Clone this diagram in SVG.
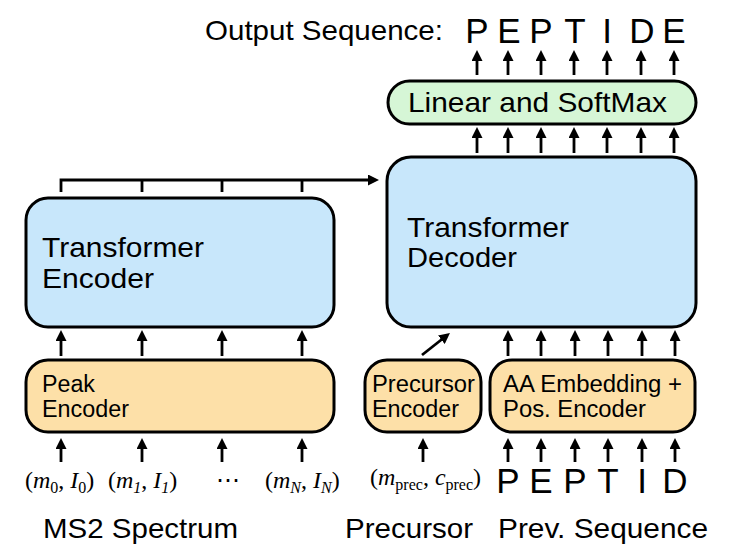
<svg xmlns="http://www.w3.org/2000/svg" width="736" height="550" viewBox="0 0 736 550">
<style>
text{font-family:"Liberation Sans",Arial,sans-serif;fill:#000}
.big{font-size:28px}
.pep{font-size:35px;text-anchor:middle}
.small{font-size:23px}
.math{font-family:"Liberation Serif","DejaVu Serif",serif;font-size:24px}
.it{font-style:italic}
.sub{font-size:16px}
.box{stroke:#000;stroke-width:3}
.blue{fill:#c8e7fb}
.orange{fill:#fde0a8}
.green{fill:#d6f6d6}
.arr{stroke:#000;stroke-width:2.8;fill:none;marker-end:url(#ah)}
.ln{stroke:#000;stroke-width:2.8;fill:none}
</style>
<defs>
<marker id="ah" viewBox="0 0 11 11" refX="2" refY="5.5" markerWidth="11" markerHeight="11" markerUnits="userSpaceOnUse" orient="auto">
<path d="M0,0 L11,5.5 L0,11 z" fill="#000"/>
</marker>
</defs>
<rect width="736" height="550" fill="#fff"/>

<g id="title">
<text class="big" x="205" y="40" textLength="238" lengthAdjust="spacingAndGlyphs">Output Sequence:</text>
<text class="pep" x="477" y="43">P</text>
<text class="pep" x="509" y="43">E</text>
<text class="pep" x="541" y="43">P</text>
<text class="pep" x="575" y="43">T</text>
<text class="pep" x="607" y="43">I</text>
<text class="pep" x="642" y="43">D</text>
<text class="pep" x="674" y="43">E</text>
</g>

<g id="linear-softmax">
<rect class="box green" x="388" y="81" width="308" height="43" rx="21.5"/>
<text class="big" x="408" y="112" textLength="259" lengthAdjust="spacingAndGlyphs">Linear and SoftMax</text>
</g>

<g id="transformer-encoder">
<rect class="box blue" x="26" y="198" width="308" height="129" rx="22"/>
<text class="big" x="42" y="257" textLength="162" lengthAdjust="spacingAndGlyphs">Transformer</text>
<text class="big" x="42" y="288" textLength="112" lengthAdjust="spacingAndGlyphs">Encoder</text>
</g>

<g id="transformer-decoder">
<rect class="box blue" x="387" y="157" width="309" height="170" rx="24"/>
<text class="big" x="407" y="237" textLength="162" lengthAdjust="spacingAndGlyphs">Transformer</text>
<text class="big" x="407" y="267" textLength="110" lengthAdjust="spacingAndGlyphs">Decoder</text>
</g>

<g id="peak-encoder">
<rect class="box orange" x="26" y="360" width="308" height="72" rx="22"/>
<text class="small" x="42" y="392" textLength="53" lengthAdjust="spacingAndGlyphs">Peak</text>
<text class="small" x="42" y="417" textLength="87" lengthAdjust="spacingAndGlyphs">Encoder</text>
</g>

<g id="precursor-encoder">
<rect class="box orange" x="365" y="360" width="116" height="72" rx="22"/>
<text class="small" x="372" y="392" textLength="103" lengthAdjust="spacingAndGlyphs">Precursor</text>
<text class="small" x="372" y="417" textLength="87" lengthAdjust="spacingAndGlyphs">Encoder</text>
</g>

<g id="aa-encoder">
<rect class="box orange" x="490" y="360" width="205" height="72" rx="22"/>
<text class="small" x="503" y="392" textLength="179" lengthAdjust="spacingAndGlyphs">AA Embedding +</text>
<text class="small" x="503" y="417" textLength="143" lengthAdjust="spacingAndGlyphs">Pos. Encoder</text>
</g>

<g id="inputs">
<text class="math" x="25" y="488">(<tspan class="it">m</tspan><tspan class="sub" dy="5">0</tspan><tspan dy="-5">, </tspan><tspan class="it">I</tspan><tspan class="sub" dy="5">0</tspan><tspan dy="-5">)</tspan></text>
<text class="math" x="108" y="488">(<tspan class="it">m</tspan><tspan class="sub it" dy="5">1</tspan><tspan dy="-5">, </tspan><tspan class="it">I</tspan><tspan class="sub it" dy="5">1</tspan><tspan dy="-5">)</tspan></text>
<text class="math" x="228" y="488" text-anchor="middle">⋯</text>
<text class="math" x="265" y="488">(<tspan class="it">m</tspan><tspan class="sub it" dy="5">N</tspan><tspan dy="-5">, </tspan><tspan class="it">I</tspan><tspan class="sub it" dy="5">N</tspan><tspan dy="-5">)</tspan></text>
<text class="math" x="370" y="485">(<tspan class="it">m</tspan><tspan class="sub" dy="5">prec</tspan><tspan dy="-5">, </tspan><tspan class="it">c</tspan><tspan class="sub" dy="5">prec</tspan><tspan dy="-5">)</tspan></text>
<text class="pep" x="508" y="493">P</text>
<text class="pep" x="541" y="493">E</text>
<text class="pep" x="575" y="493">P</text>
<text class="pep" x="608" y="493">T</text>
<text class="pep" x="642" y="493">I</text>
<text class="pep" x="675" y="493">D</text>
</g>

<g id="labels">
<text class="big" x="43" y="538" textLength="195" lengthAdjust="spacingAndGlyphs">MS2 Spectrum</text>
<text class="big" x="345" y="538" textLength="128" lengthAdjust="spacingAndGlyphs">Precursor</text>
<text class="big" x="498" y="538" textLength="210" lengthAdjust="spacingAndGlyphs">Prev. Sequence</text>
</g>

<g id="connectors">
<path class="arr" d="M477,75 V59"/>
<path class="arr" d="M508,75 V59"/>
<path class="arr" d="M541,75 V59"/>
<path class="arr" d="M574,75 V59"/>
<path class="arr" d="M607,75 V59"/>
<path class="arr" d="M641,75 V59"/>
<path class="arr" d="M674,75 V59"/>

<path class="arr" d="M477,153 V136"/>
<path class="arr" d="M508,153 V136"/>
<path class="arr" d="M541,153 V136"/>
<path class="arr" d="M574,153 V136"/>
<path class="arr" d="M607,153 V136"/>
<path class="arr" d="M641,153 V136"/>
<path class="arr" d="M674,153 V136"/>

<path class="arr" d="M61,192 V180 H370"/>
<path class="ln" d="M142,180 V192 M222,180 V192 M302,180 V192"/>

<path class="arr" d="M61,356 V339"/>
<path class="arr" d="M142,356 V339"/>
<path class="arr" d="M222,356 V339"/>
<path class="arr" d="M302,356 V339"/>

<path class="arr" d="M61,462 V447"/>
<path class="arr" d="M142,462 V447"/>
<path class="arr" d="M222,462 V447"/>
<path class="arr" d="M302,462 V447"/>

<path class="arr" d="M422,355 L442.9,338.5"/>
<path class="arr" d="M423,462 V447"/>

<path class="arr" d="M508,356 V339"/>
<path class="arr" d="M541,356 V339"/>
<path class="arr" d="M575,356 V339"/>
<path class="arr" d="M608,356 V339"/>
<path class="arr" d="M642,356 V339"/>
<path class="arr" d="M675,356 V339"/>

<path class="arr" d="M508,462 V447"/>
<path class="arr" d="M541,462 V447"/>
<path class="arr" d="M575,462 V447"/>
<path class="arr" d="M608,462 V447"/>
<path class="arr" d="M642,462 V447"/>
<path class="arr" d="M675,462 V447"/>
</g>
</svg>
